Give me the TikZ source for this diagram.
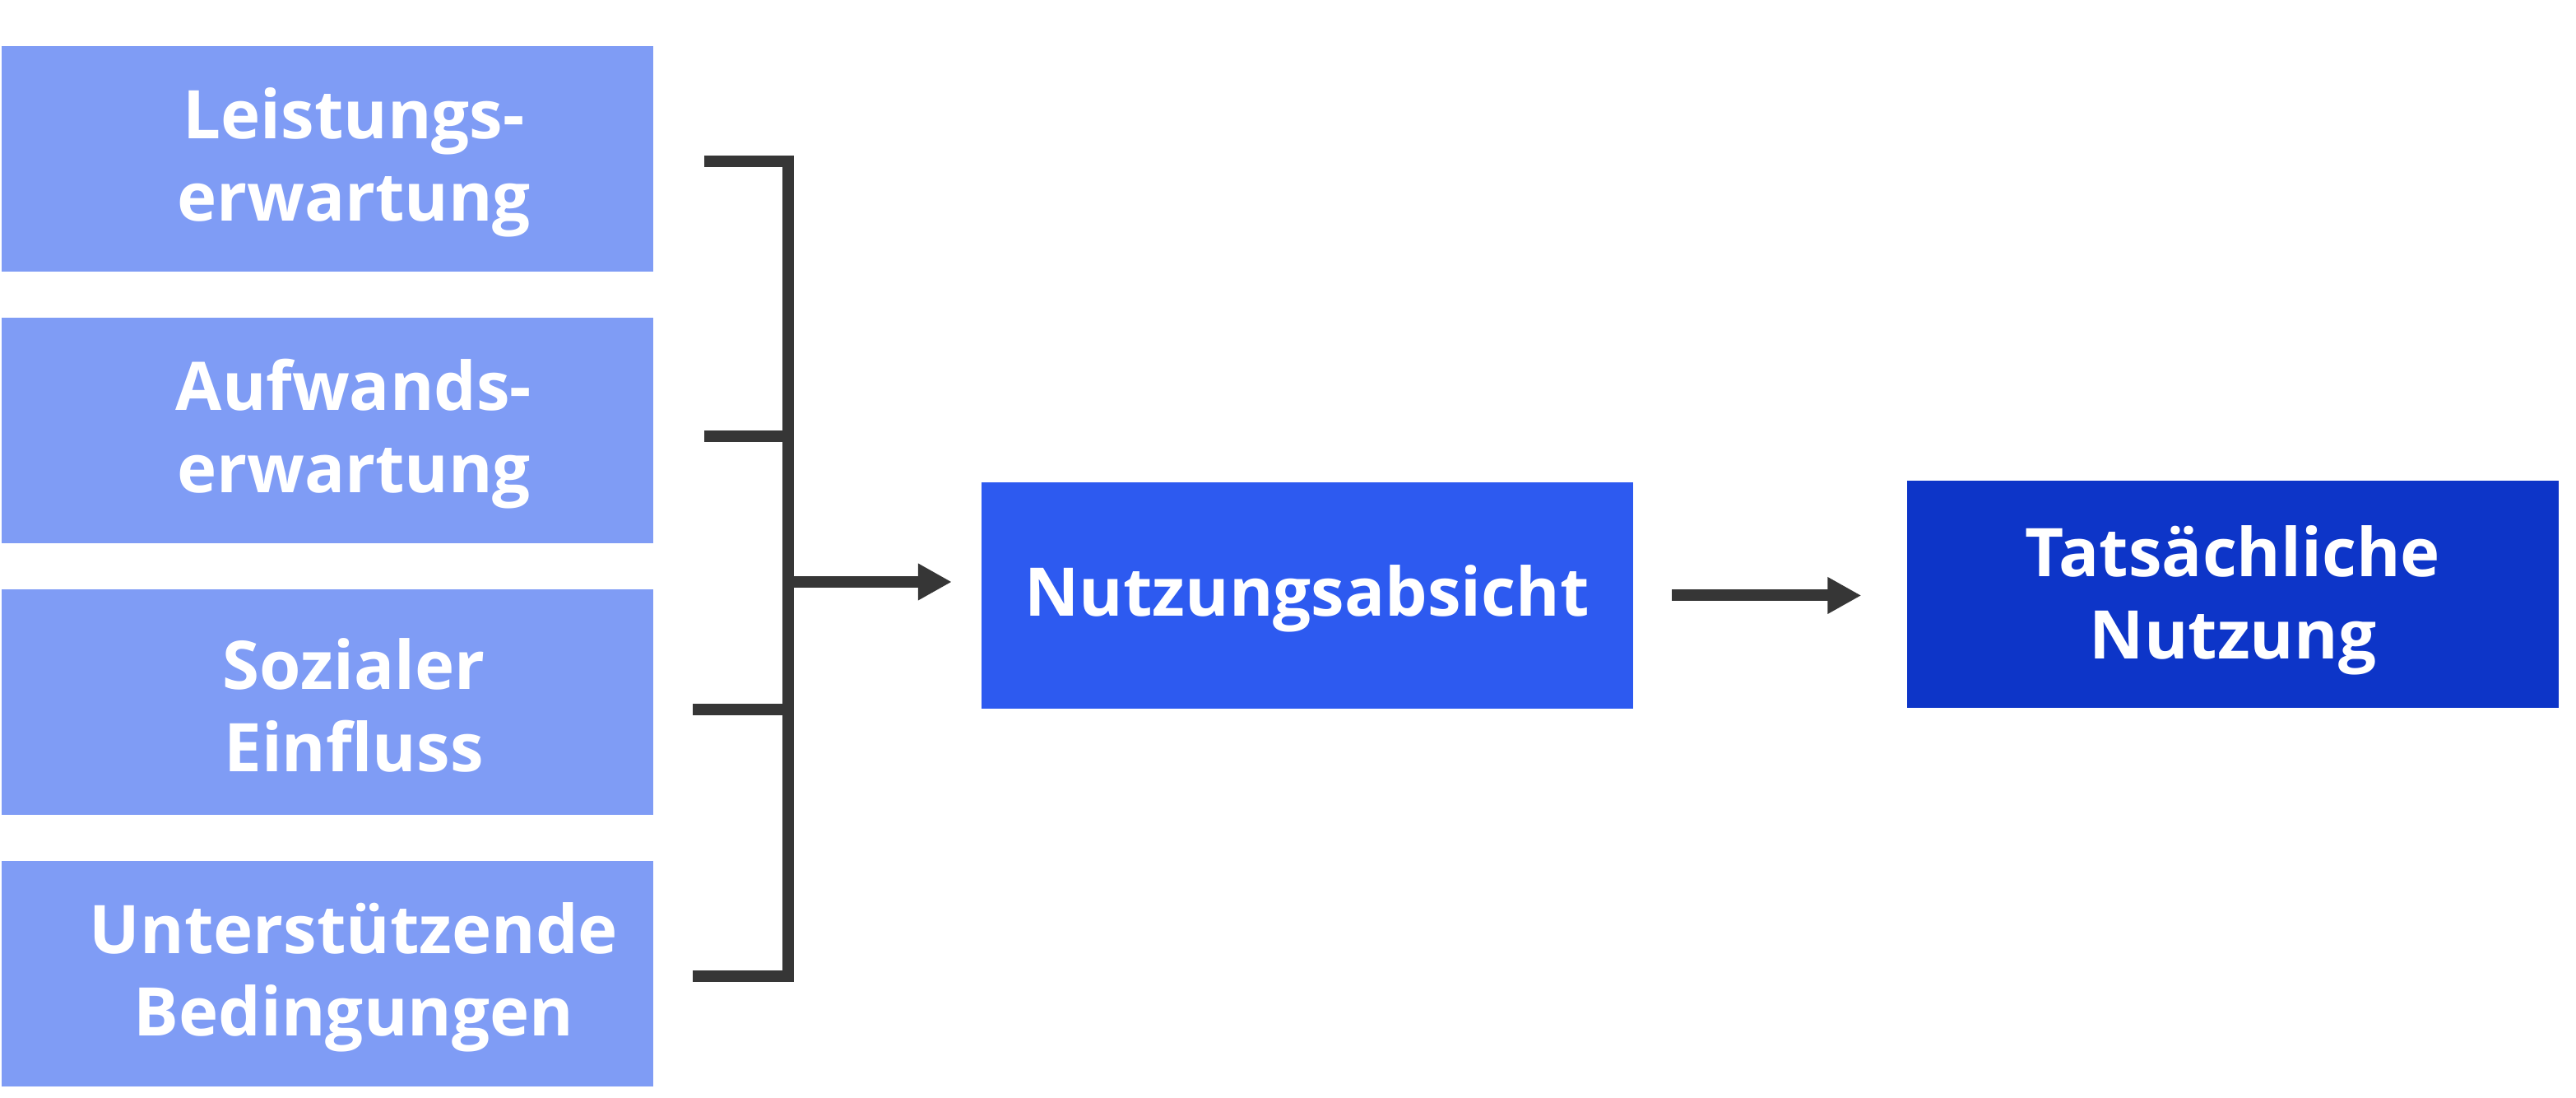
\documentclass[tikz,border=0pt]{standalone}
\usepackage{fontspec}
\setsansfont{Open Sans}
\usetikzlibrary{arrows.meta,calc}
\definecolor{cBox}  {RGB}{127,156,245}
\definecolor{cMid}  {RGB}{45,90,240}
\definecolor{cDark} {RGB}{13,53,200}
\definecolor{cLine} {RGB}{54,54,54}
\tikzset{
  box/.style={rectangle,minimum width=7.92cm,minimum height=2.74cm,
    inner sep=0pt,align=center,text=white,
    font=\sffamily\bfseries\fontsize{23.2}{28.5}\selectfont},
  lbl/.style={inner sep=0pt,align=center,text=white,
    font=\sffamily\bfseries\fontsize{23.2}{28.5}\selectfont},
  conn/.style={cLine,line width=0.14cm,line join=miter},
  arr/.style={conn,-{Triangle[length=0.41cm,width=0.42cm]}}
}

\begin{document}
\begin{tikzpicture}[font=\sffamily]

% fundo
\useasboundingbox (0,0) rectangle (31.31,13.34);

% =================== FAKTOREN ===================
\node[box,fill=cBox] (le) at (3.98,11.41) {};
\node[box,fill=cBox] (ae) at (3.98,8.11)  {};
\node[box,fill=cBox] (se) at (3.98,4.81)  {};
\node[box,fill=cBox] (ub) at (3.98,1.51)  {};
% texte leicht nach rechts versetzt
\node[lbl] (leT) at ($(le)+(0.32,-0.04)$) {Leistungs-\\erwartung};
\node[lbl] (aeT) at ($(ae)+(0.32,-0.04)$) {Aufwands-\\erwartung};
\node[lbl] (seT) at ($(se)+(0.32,-0.04)$) {Sozialer\\Einfluss};
\node[lbl] (ubT) at ($(ub)+(0.32,-0.04)$) {Unterstützende\\Bedingungen};

% =================== ABSICHT / NUTZUNG ===================
\node[box,fill=cMid,minimum height=2.75cm]  (na) at (15.885,6.105) {};
\node[box,fill=cDark,minimum height=2.76cm] (tn) at (27.14,6.12)   {};
\node[lbl] (naT) at ($(na)+(0,-0.04)$) {Nutzungsabsicht};
\node[lbl] (tnT) at ($(tn)+(0,-0.07)$) {Tatsächliche\\Nutzung};

% =================== KLAMMER ===================
\coordinate (t1) at (8.56,11.38);
\coordinate (t2) at (8.56,8.04);
\coordinate (t3) at (8.42,4.72);
\coordinate (t4) at (8.42,1.48);
\coordinate (c1) at (9.58,11.38);
\coordinate (c2) at (9.58,8.04);
\coordinate (c3) at (9.58,4.72);
\coordinate (c4) at (9.58,1.48);
\coordinate (cm) at (9.58,6.27);

\draw[conn] (t1) -- (c1) -- (c4) -- (t4);
\draw[conn] (t2) -- (c2);
\draw[conn] (t3) -- (c3);

% pfeile
\draw[arr,shorten >=0.35cm] (cm) -- (cm -| na.west);
\draw[arr,shorten <=0.47cm,shorten >=0.55cm] (na.east) -- (na.east -| tn.west);

\end{tikzpicture}
\end{document}
